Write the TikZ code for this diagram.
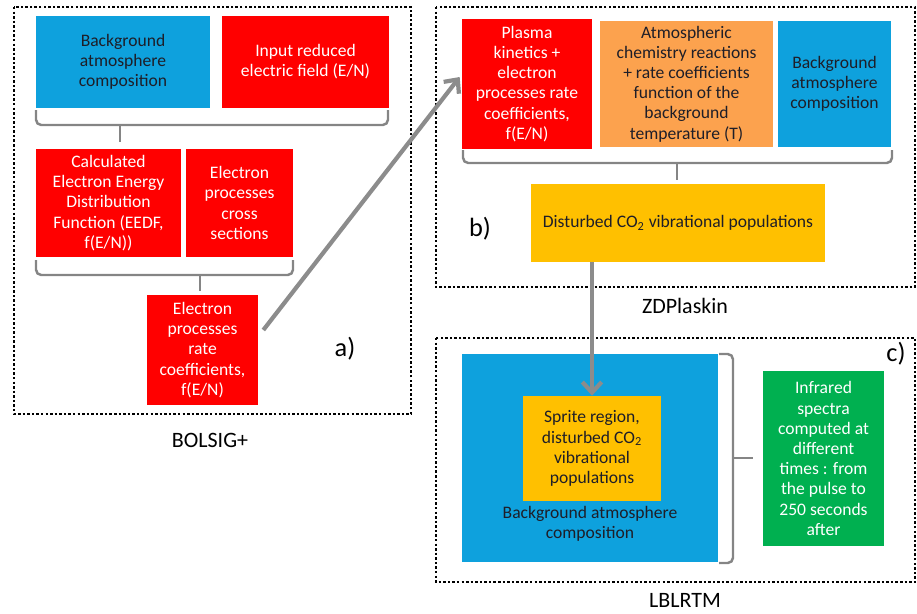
\documentclass[tikz,border=0pt]{standalone}
\usepackage{fontspec}
\setmainfont{Carlito}
\usepackage{tikz}
\usetikzlibrary{arrows.meta}
\definecolor{boxred}{RGB}{255,0,0}
\definecolor{boxblue}{RGB}{14,161,221}
\definecolor{boxorange}{RGB}{252,162,78}
\definecolor{boxyellow}{RGB}{255,192,0}
\definecolor{boxgreen}{RGB}{0,176,80}
\definecolor{linkgray}{RGB}{140,140,140}
\definecolor{darktext}{RGB}{30,30,40}
\tikzset{>=latex}

\begin{document}
\begin{tikzpicture}[x=0.02cm, y=-0.02cm]
        % x,y in pixels of the original figure
        \tikzset{
          box/.style={inner sep=2pt, align=center, font=\fontsize{10}{11.5}\selectfont},
          redbox/.style={box, fill=boxred, text=white},
          bluebox/.style={box, fill=boxblue, text=darktext},
          orangebox/.style={box, fill=boxorange, text=darktext},
          yellowbox/.style={box, fill=boxyellow, text=darktext},
          greenbox/.style={box, fill=boxgreen, text=white},
          panel/.style={draw=black, line width=1.4pt, dash pattern=on 1.4pt off 1.2pt},
          brace/.style={draw=linkgray!95!black, line width=1.4pt, rounded corners=3pt},
          flow/.style={draw=linkgray, line width=2.4pt, -{Straight Barb[length=6pt, width=11pt, line width=2.4pt]}},
          tag/.style={anchor=base, font=\fontsize{15}{17}\selectfont},
          toolname/.style={anchor=base, font=\fontsize{12.5}{14}\selectfont}
        }
        \useasboundingbox (0,0) rectangle (917,613);

        % a) BOLSIG+
        \draw[panel] (14,7) rectangle (411,414);
        \node[bluebox, minimum width=3.48cm, minimum height=1.84cm] (bga) at (123,62) {Background\\atmosphere\\composition};
        \node[redbox, minimum width=3.34cm, minimum height=1.84cm] (efield) at (305.5,62) {Input reduced\\electric field (E/N)};
        \draw[brace] (36,110) -- (36,125) -- (388,125) -- (388,110);
        \draw[brace] (120,125) -- (120,142);
        \node[redbox, minimum width=2.9cm, minimum height=2.16cm] (eedf) at (108.5,203) {Calculated\\Electron Energy\\Distribution\\Function (EEDF,\\f(E/N))};
        \node[redbox, minimum width=2.14cm, minimum height=2.16cm] (cross) at (239.5,203) {Electron\\processes\\cross\\sections};
        \draw[brace] (36,260) -- (36,275) -- (293,275) -- (293,260);
        \draw[brace] (200,275) -- (200,291);
        \node[redbox, minimum width=2.22cm, minimum height=2.2cm] (eprate) at (202.5,350) {Electron\\processes\\rate\\coefficients,\\f(E/N)};
        \node[tag] (taga) at (345,356) {a)};
        \node[toolname] (bolsig) at (210,447) {BOLSIG+};

        % b) ZDPlaskin
        \draw[panel] (436,7) rectangle (915,287);
        \node[redbox, minimum width=2.6cm, minimum height=2.6cm] (plasma) at (527,84) {Plasma\\kinetics +\\electron\\processes rate\\coefficients,\\f(E/N)};
        \node[orangebox, minimum width=3.46cm, minimum height=2.52cm] (chem) at (686.5,84) {Atmospheric\\chemistry reactions\\+ rate coefficients\\function of the\\background\\temperature (T)};
        \node[bluebox, minimum width=2.26cm, minimum height=2.52cm] (bgb) at (834.5,84) {Background\\atmosphere\\composition};
        \draw[brace] (463,150) -- (463,163) -- (892,163) -- (892,150);
        \draw[brace] (677,163) -- (677,180);
        \node[yellowbox, minimum width=5.88cm, minimum height=1.56cm] (disturbed) at (678,223) {Disturbed CO\textsubscript{2} vibrational populations};
        \node[tag] (tagb) at (480,236) {b)};
        \node[toolname] (zdplaskin) at (685,313) {ZDPlaskin};

        % c) LBLRTM
        \draw[panel] (436,338) rectangle (915,582);
        \node[bluebox, minimum width=5.12cm, minimum height=4.16cm] (bgc) at (590,458) {};
        \node[yellowbox, minimum width=2.76cm, minimum height=2.1cm] (sprite) at (592,448.5) {Sprite region,\\disturbed CO\textsubscript{2}\\vibrational\\populations};
        \node[box, text=darktext] (bgtext) at (590,524) {Background atmosphere\\composition};
        \draw[brace] (719,354) -- (733,354) -- (733,563) -- (719,563);
        \draw[brace] (733,458) -- (753,458);
        \node[greenbox, minimum width=2.42cm, minimum height=3.5cm] (infrared) at (823.5,458.5) {Infrared\\spectra\\computed at\\different\\times : from\\the pulse to\\250 seconds\\after};
        \node[tag] (tagc) at (896,361) {c)};
        \node[toolname] (lblrtm) at (685,607) {LBLRTM};

        % links between the codes
        \draw[flow] ([xshift=0.1cm, yshift=0.4cm]eprate.east) -- ([xshift=-0.04cm, yshift=0.14cm]plasma.west);
        \draw[flow] (disturbed.south -| sprite.north) -- (sprite.north);
\end{tikzpicture}
\end{document}
